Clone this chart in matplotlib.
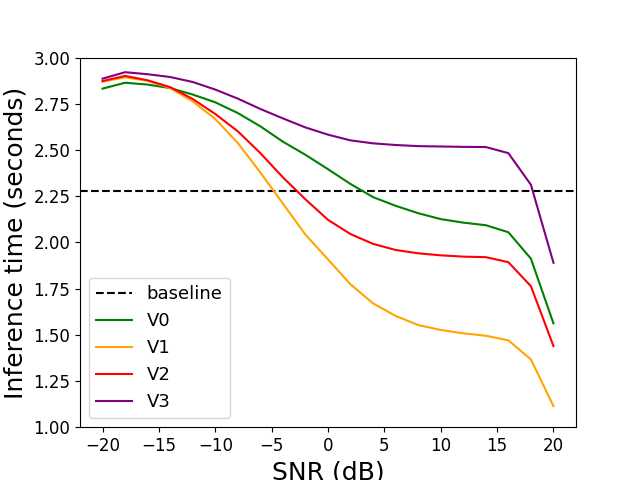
import matplotlib
matplotlib.use("Agg")
import matplotlib.pyplot as plt
import numpy as np

snr = [-20, -18, -16, -14, -12, -10, -8, -6, -4, -2, 0, 2, 4, 6, 8, 10, 12, 14, 16, 18, 20]
baseline = 2.28
v0 = [2.832, 2.864, 2.854, 2.835, 2.800, 2.758, 2.700, 2.628, 2.545, 2.474, 2.396, 2.316, 2.245, 2.198, 2.158, 2.126, 2.107, 2.093, 2.055, 1.912, 1.562]
v1 = [2.870, 2.893, 2.875, 2.835, 2.763, 2.668, 2.538, 2.378, 2.210, 2.042, 1.908, 1.773, 1.670, 1.602, 1.553, 1.526, 1.508, 1.495, 1.470, 1.367, 1.114]
v2 = [2.873, 2.901, 2.877, 2.840, 2.776, 2.695, 2.601, 2.483, 2.352, 2.233, 2.122, 2.045, 1.992, 1.959, 1.941, 1.930, 1.923, 1.920, 1.893, 1.763, 1.439]
v3 = [2.886, 2.921, 2.910, 2.895, 2.868, 2.827, 2.778, 2.722, 2.671, 2.622, 2.583, 2.552, 2.536, 2.527, 2.521, 2.519, 2.517, 2.516, 2.483, 2.312, 1.890]

fig, ax = plt.subplots(figsize=(6.4, 4.8), dpi=100)
ax.axhline(baseline, color="black", linestyle="--", label="baseline")
ax.plot(snr, v0, color="green", label="V0")
ax.plot(snr, v1, color="orange", label="V1")
ax.plot(snr, v2, color="red", label="V2")
ax.plot(snr, v3, color="purple", label="V3")
ax.set_ylim(1.0, 3.0)
ax.set_xlabel("SNR (dB)", fontsize=18)
ax.set_ylabel("Inference time (seconds)", fontsize=18)
ax.tick_params(labelsize=12)
ax.legend(fontsize=13, loc="lower left")
fig.savefig("out.png")
